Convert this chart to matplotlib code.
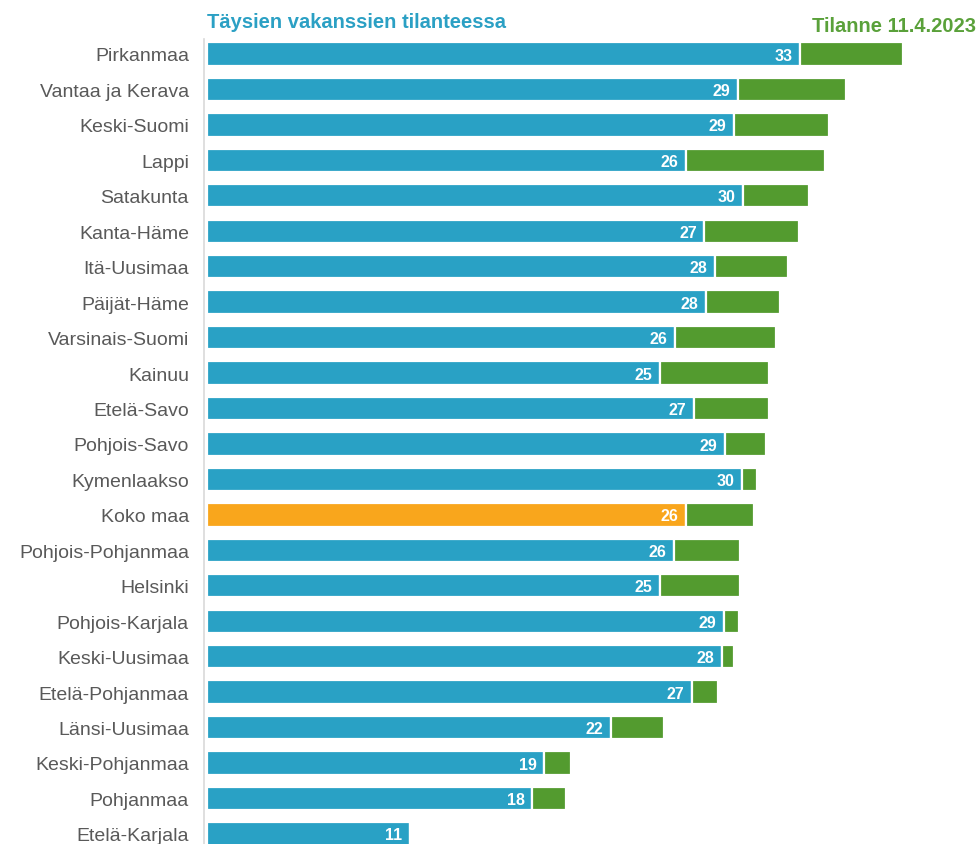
import matplotlib
matplotlib.use("Agg")
import matplotlib.pyplot as plt

plt.rcParams['font.family'] = ['Liberation Sans', 'DejaVu Sans']

regions = ["Pirkanmaa", "Vantaa ja Kerava", "Keski-Suomi", "Lappi", "Satakunta",
           "Kanta-Häme", "Itä-Uusimaa", "Päijät-Häme", "Varsinais-Suomi", "Kainuu",
           "Etelä-Savo", "Pohjois-Savo", "Kymenlaakso", "Koko maa", "Pohjois-Pohjanmaa",
           "Helsinki", "Pohjois-Karjala", "Keski-Uusimaa", "Etelä-Pohjanmaa",
           "Länsi-Uusimaa", "Keski-Pohjanmaa", "Pohjanmaa", "Etelä-Karjala"]
full_vacancies = [32.76, 29.35, 29.10, 26.46, 29.61, 27.48, 28.08, 27.57, 25.87, 25.03,
                  26.91, 28.60, 29.54, 26.46, 25.78, 25.00, 28.55, 28.45, 26.81,
                  22.30, 18.64, 17.97, 11.20]
current_extra = [5.69, 5.97, 5.28, 7.66, 3.66, 5.22, 4.00, 4.09, 5.55, 6.04,
                 4.16, 2.30, 0.83, 3.76, 3.66, 4.42, 0.85, 0.68, 1.44,
                 2.96, 1.46, 1.86, 0.00]
title_left = "Täysien vakanssien tilanteessa"
title_right = "Tilanne 11.4.2023"

BLUE = "#29A1C5"
ORANGE = "#F9A61C"
GREEN = "#539B2F"

W, H = 979, 845
fig = plt.figure(figsize=(W / 100, H / 100), dpi=100)
ax_left = 207 / W
ax_top = 40 / H
ax = fig.add_axes([ax_left, 0, 1 - ax_left, 1 - ax_top])

ypos = list(range(len(regions)))
colors = [ORANGE if r == "Koko maa" else BLUE for r in regions]
ax.barh(ypos, full_vacancies, height=0.66, color=colors, edgecolor="white", linewidth=1.6)
ax.barh(ypos, current_extra, left=full_vacancies, height=0.66, color=GREEN,
        edgecolor="white", linewidth=1.6)

for y, v in zip(ypos, full_vacancies):
    ax.text(v - 0.42, y + 0.03, f"{v:.0f}", ha="right", va="center", color="white",
            fontsize=11.5, fontweight="bold", family="Liberation Sans")

px_per_unit = 18.1
ax.set_xlim(0, (W - 207) / px_per_unit)
row_pitch = 35.45
ax.set_ylim((845 - 55) / row_pitch, -(55 - 40) / row_pitch)

ax.tick_params(axis="y", length=0, pad=11, labelsize=14, labelcolor="#595959")
ax.set_yticks(ypos)
ax.set_yticklabels(regions)
for lbl in ax.get_yticklabels():
    lbl.set_family("DejaVu Sans")
    lbl.set_fontsize(14)
    lbl.set_color("#595959")
ax.set_xticks([])
for s in ["top", "right", "bottom"]:
    ax.spines[s].set_visible(False)
ax.spines["left"].set_color("#D9D9D9")
ax.spines["left"].set_linewidth(1.2)
ax.spines["left"].set_position(("outward", 2))

fig.text(207 / W, 1 - 22 / H, title_left, ha="left", va="center", color="#2BA0C4",
         fontsize=14.5, fontweight="bold")
fig.text(976 / W, 1 - 26 / H, title_right, ha="right", va="center", color="#5AA13A",
         fontsize=14.5, fontweight="bold")

fig.savefig("out.png", dpi=100)
